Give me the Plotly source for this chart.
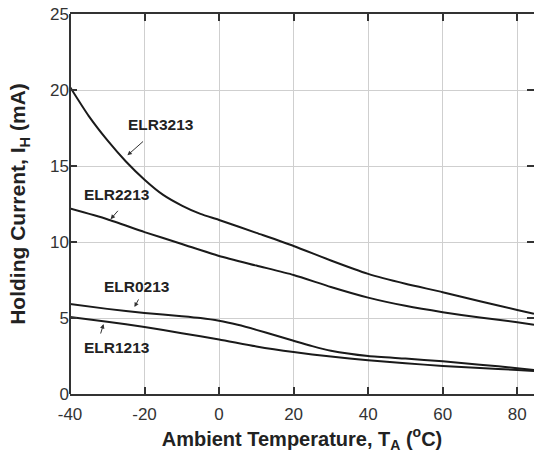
import plotly.graph_objects as go

# ---- data ----
temp_3213 = [-40, -35, -30, -25, -20, -15, -10, -5, 0, 10, 20, 30, 40, 50, 60, 70, 80, 84.5]
ih_3213 = [20.2, 18.3, 16.7, 15.3, 14.1, 13.1, 12.4, 11.85, 11.45, 10.6, 9.74, 8.78, 7.9, 7.25, 6.7, 6.1, 5.53, 5.28]

temp_2213 = [-40, -30, -20, -10, 0, 10, 20, 30, 40, 50, 60, 70, 80, 84.5]
ih_2213 = [12.2, 11.5, 10.65, 9.87, 9.08, 8.45, 7.83, 7.04, 6.34, 5.8, 5.38, 5.03, 4.72, 4.56]

temp_0213 = [-40, -30, -20, -10, -5, 0, 5, 10, 15, 20, 25, 30, 40, 50, 60, 70, 80, 84.5]
ih_0213 = [5.92, 5.6, 5.33, 5.12, 5.0, 4.82, 4.55, 4.22, 3.86, 3.5, 3.15, 2.85, 2.5, 2.33, 2.15, 1.93, 1.7, 1.58]

temp_1213 = [-40, -30, -20, -10, 0, 10, 20, 30, 40, 50, 60, 70, 80, 84.5]
ih_1213 = [5.07, 4.75, 4.41, 4.0, 3.59, 3.13, 2.76, 2.46, 2.22, 2.02, 1.85, 1.71, 1.58, 1.52]

series_names = ["ELR3213", "ELR2213", "ELR0213", "ELR1213"]
series_t = [temp_3213, temp_2213, temp_0213, temp_1213]
series_i = [ih_3213, ih_2213, ih_0213, ih_1213]

# label positions (data coords) and arrow tail/head (data coords)
label_x = [-15.7, -27.5, -21.9, -27.3]
label_y = [17.7, 13.1, 7.04, 3.09]
arrow_tail_x = [-20.0, -26.8, -21.4, -31.9]
arrow_tail_y = [16.7, 12.15, 6.32, 3.88]
arrow_head_x = [-24.6, -29.1, -22.7, -31.0]
arrow_head_y = [15.7, 11.5, 5.72, 4.6]

x_ticks = [-40, -20, 0, 20, 40, 60, 80]
y_ticks = [0, 5, 10, 15, 20, 25]
x_range = [-40, 84.5]
y_range = [0, 25]

FONT = "Liberation Sans, Arial, sans-serif"
AXC = "#333333"

fig = go.Figure()
for name, t, i in zip(series_names, series_t, series_i):
    fig.add_trace(go.Scatter(
        x=t, y=i, mode="lines", name=name,
        line=dict(color="#1a1a1a", width=2, shape="spline", smoothing=0.6),
        showlegend=False, hoverinfo="skip"))

annotations = []
for k, name in enumerate(series_names):
    annotations.append(dict(
        x=label_x[k], y=label_y[k], xref="x", yref="y", text="<b>" + name + "</b>",
        showarrow=False, font=dict(family=FONT, size=15.5, color="#222222"),
        xanchor="center", yanchor="middle"))
    annotations.append(dict(
        x=arrow_head_x[k], y=arrow_head_y[k], xref="x", yref="y",
        ax=arrow_tail_x[k], ay=arrow_tail_y[k], axref="x", ayref="y",
        text="", showarrow=True, arrowhead=2, arrowsize=0.9, arrowwidth=1,
        arrowcolor="#333333", standoff=0, startstandoff=0))

fig.update_layout(
    width=534, height=458,
    margin=dict(l=70, r=0, t=14, b=64),
    paper_bgcolor="white", plot_bgcolor="white",
    font=dict(family=FONT, color=AXC),
    annotations=annotations,
    shapes=[dict(type="line", xref="paper", yref="paper", x0=0, x1=0, y0=0, y1=1,
                 line=dict(color=AXC, width=2), layer="above")],
    xaxis=dict(
        range=x_range, tickvals=x_ticks, ticktext=[str(v) for v in x_ticks],
        showgrid=True, gridcolor="#cfcfcf", gridwidth=1, zeroline=False,
        showline=True, linecolor=AXC, linewidth=2, mirror="ticks",
        ticks="inside", ticklen=7, tickwidth=2, tickcolor=AXC,
        ticklabelstandoff=4,
        tickfont=dict(family=FONT, size=17, color=AXC),
        title=dict(text="<b>Ambient Temperature, T<sub>A</sub> (<sup>o</sup>C)</b>",
                   font=dict(family=FONT, size=20, color="#222222"), standoff=4)),
    yaxis=dict(
        range=y_range, tickvals=y_ticks, ticktext=[str(v) for v in y_ticks],
        showgrid=True, gridcolor="#cfcfcf", gridwidth=1, zeroline=False,
        showline=False, mirror="ticks",
        ticks="inside", ticklen=7, tickwidth=2, tickcolor=AXC,
        tickfont=dict(family=FONT, size=17, color=AXC),
        title=dict(text="<b>Holding Current, I<sub>H</sub> (mA)</b>",
                   font=dict(family=FONT, size=21, color="#222222"), standoff=18)),
)

fig.write_html("out.html")
